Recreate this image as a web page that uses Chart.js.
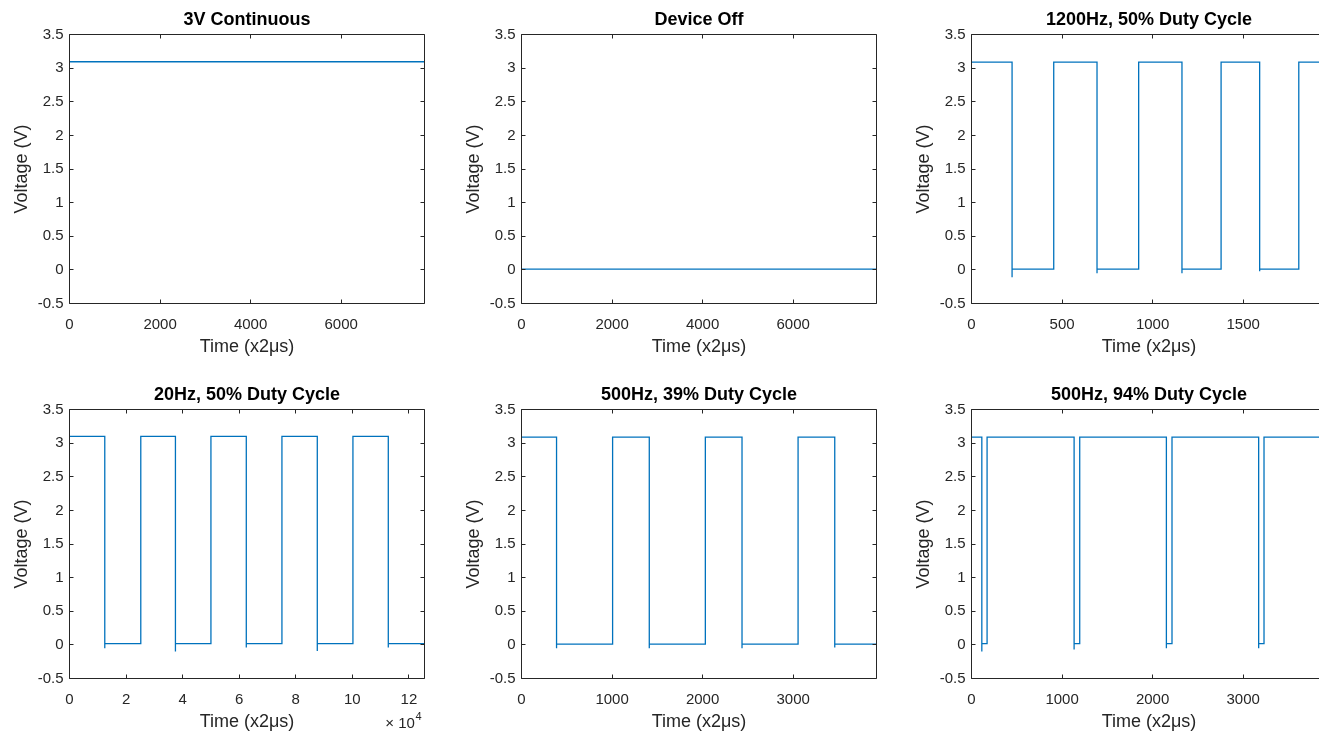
<!DOCTYPE html>
<html>
<head>
<meta charset="utf-8">
<script src="https://cdn.jsdelivr.net/npm/chart.js@4.4.1/dist/chart.umd.min.js"></script>
<style>
html,body{margin:0;padding:0;background:#ffffff;overflow:hidden;}
#wrap{position:relative;width:1319px;height:731px;overflow:hidden;background:#ffffff;}
#wrap canvas{position:absolute;}
</style>
</head>
<body>
<div id="wrap">
<canvas id="c1"></canvas>
<canvas id="c2"></canvas>
<canvas id="c3"></canvas>
<canvas id="c4"></canvas>
<canvas id="c5"></canvas>
<canvas id="c6"></canvas>
</div>
<script>
// ---------------- DATA ----------------
const panelTitles = ['3V Continuous', 'Device Off', '1200Hz, 50% Duty Cycle',
                     '20Hz, 50% Duty Cycle', '500Hz, 39% Duty Cycle', '500Hz, 94% Duty Cycle'];
const yLabel = 'Voltage (V)';
const xLabel = 'Time (x2\u03BCs)';
const yTicks = [-0.5, 0, 0.5, 1, 1.5, 2, 2.5, 3, 3.5];

// x-axis tick values per panel
const xTicksLong = [0, 2000, 4000, 6000];
const xTicks1200 = [0, 500, 1000, 1500];
const xTicks20 = [0, 20000, 40000, 60000, 80000, 100000, 120000];
const xTicks500 = [0, 1000, 2000, 3000];

// x-axis extents per panel (samples)
const xMaxList = [7840, 7840, 1960, 125500, 3920, 3920];

// Panel 1: 3V continuous (flat)
const contTime = [0, 7840];
const contVolt = [3.095, 3.095];
// Panel 2: device off (flat)
const offTime = [0, 7840];
const offVolt = [0.01, 0.01];

// Square-wave panels: edges alternate fall, rise, fall, ...
const edges1200 = [224, 454, 693, 923, 1162, 1378, 1591, 1807];
const spikes1200 = [-0.11, -0.05, -0.05, -0.02];
const levels1200 = [3.09, 0.01];   // high, low

const edges20 = [12470, 25200, 37450, 50000, 62500, 75100, 87600, 100200, 112700];
const spikes20 = [-0.05, -0.10, -0.04, -0.09, -0.04];
const levels20 = [3.10, 0.02];

const edges500a = [387, 1006, 1411, 2030, 2435, 3054, 3459];
const spikes500a = [-0.05, -0.05, -0.05, -0.04];
const levels500a = [3.09, 0.01];

const edges500b = [114, 172, 1133, 1195, 2152, 2214, 3171, 3230];
const spikes500b = [-0.10, -0.07, -0.05, -0.05];
const levels500b = [3.09, 0.02];

// ---------------- BUILD SERIES ----------------
function flatSeries(ts, vs) {
  return ts.map((t, i) => ({x: t, y: vs[i]}));
}
function stepSeries(edges, spikes, levels, xmax) {
  const hi = levels[0], lo = levels[1];
  const pts = [{x: 0, y: hi}];
  let level = hi;
  edges.forEach((t, i) => {
    if (i % 2 === 0) {
      pts.push({x: t, y: hi});
      pts.push({x: t, y: spikes[i / 2]});
      pts.push({x: t, y: lo});
      level = lo;
    } else {
      pts.push({x: t, y: lo});
      pts.push({x: t, y: hi});
      level = hi;
    }
  });
  pts.push({x: xmax, y: level});
  return pts;
}

const seriesList = [
  flatSeries(contTime, contVolt),
  flatSeries(offTime, offVolt),
  stepSeries(edges1200, spikes1200, levels1200, xMaxList[2]),
  stepSeries(edges20, spikes20, levels20, xMaxList[3]),
  stepSeries(edges500a, spikes500a, levels500a, xMaxList[4]),
  stepSeries(edges500b, spikes500b, levels500b, xMaxList[5])
];
const xTickList = [xTicksLong, xTicksLong, xTicks1200, xTicks20, xTicks500, xTicks500];
const xExponent = [null, null, null, '4', null, null];

// ---------------- LAYOUT ----------------
const FONT = '"Liberation Sans", Arial, Helvetica, sans-serif';
const AX = '#262626';
const plotLefts = [69.5, 521.5, 971.5];
const plotTops = [34.5, 409.5];
const plotW = 355;
const plotH = 269;
const CANVAS_W = 470, CANVAS_H = 400;

const boxPlugin = {
  id: 'matlabBox',
  afterDatasetsDraw(chart, args, opts) {
    const {ctx, chartArea: {left, right, top, bottom}} = chart;
    const xs = chart.scales.x, ys = chart.scales.y;
    ctx.save();
    ctx.strokeStyle = AX;
    ctx.lineWidth = 1;
    ctx.beginPath();
    ctx.rect(left, top, right - left, bottom - top);
    const TL = 4;
    xs.ticks.forEach(t => {
      const px = Math.round(xs.getPixelForValue(t.value) - 0.5) + 0.5;
      ctx.moveTo(px, bottom); ctx.lineTo(px, bottom - TL);
      ctx.moveTo(px, top); ctx.lineTo(px, top + TL);
    });
    ys.ticks.forEach(t => {
      const py = Math.round(ys.getPixelForValue(t.value) - 0.5) + 0.5;
      ctx.moveTo(left, py); ctx.lineTo(left + TL, py);
      ctx.moveTo(right, py); ctx.lineTo(right - TL, py);
    });
    ctx.stroke();
    if (opts && opts.exponent) {
      ctx.fillStyle = AX;
      ctx.textBaseline = 'middle';
      ctx.textAlign = 'right';
      ctx.font = '11px ' + FONT;
      const supX = right - 3;
      ctx.fillText(opts.exponent, supX, bottom + 38);
      const w = ctx.measureText(opts.exponent).width;
      ctx.font = '15px ' + FONT;
      ctx.fillText('\u00D7 10', supX - w - 0.5, bottom + 45.5);
    }
    ctx.restore();
  }
};

function makeChart(idx) {
  const col = idx % 3, row = Math.floor(idx / 3);
  const cLeft = plotLefts[col] - 69.5;
  const cTop = plotTops[row] - 34.5;
  const canvas = document.getElementById('c' + (idx + 1));
  canvas.width = CANVAS_W;
  canvas.height = CANVAS_H;
  canvas.style.left = cLeft + 'px';
  canvas.style.top = cTop + 'px';
  canvas.style.width = CANVAS_W + 'px';
  canvas.style.height = CANVAS_H + 'px';
  const xt = xTickList[idx];
  const isExp = xExponent[idx] !== null;
  new Chart(canvas, {
    type: 'line',
    data: {
      datasets: [{
        data: seriesList[idx],
        borderColor: '#0072BD',
        borderWidth: 1.3,
        pointRadius: 0,
        tension: 0,
        fill: false
      }]
    },
    options: {
      responsive: false,
      animation: false,
      devicePixelRatio: 1,
      parsing: false,
      layout: {padding: {left: 0, top: 0, bottom: 0, right: CANVAS_W - 69.5 - plotW}},
      plugins: {
        legend: {display: false},
        tooltip: {enabled: false},
        title: {
          display: true,
          text: panelTitles[idx],
          fullSize: false,
          color: '#000000',
          font: {family: FONT, size: 18, weight: 'bold', lineHeight: 1.2},
          padding: {top: 9.5, bottom: 3.4}
        },
        matlabBox: {exponent: isExp ? xExponent[idx] : null}
      },
      scales: {
        x: {
          type: 'linear',
          min: 0,
          max: xMaxList[idx],
          grid: {display: false, drawTicks: false},
          border: {display: false},
          afterBuildTicks: s => { s.ticks = xt.map(v => ({value: v})); },
          afterFit: s => { s.height = CANVAS_H - 34.5 - plotH; },
          ticks: {
            autoSkip: false, maxRotation: 0, minRotation: 0,
            padding: 12,
            color: AX,
            font: {family: FONT, size: 15},
            callback: v => isExp ? String(v / 1e4) : String(v)
          },
          title: {
            display: true, text: xLabel, color: AX,
            font: {family: FONT, size: 18, lineHeight: 1.2},
            padding: {top: 0, bottom: 41.7}
          }
        },
        y: {
          type: 'linear',
          min: -0.5,
          max: 3.5,
          grid: {display: false, drawTicks: false},
          border: {display: false},
          afterBuildTicks: s => { s.ticks = yTicks.map(v => ({value: v})); },
          afterFit: s => { s.width = 69.5; },
          ticks: {
            autoSkip: false,
            padding: 6,
            color: AX,
            font: {family: FONT, size: 15},
            callback: v => String(v)
          },
          title: {
            display: true, text: yLabel, color: AX,
            font: {family: FONT, size: 18, lineHeight: 1.2},
            padding: {top: 10.9, bottom: 0}
          }
        }
      }
    },
    plugins: [boxPlugin]
  });
}
for (let i = 0; i < 6; i++) makeChart(i);
</script>
</body>
</html>
